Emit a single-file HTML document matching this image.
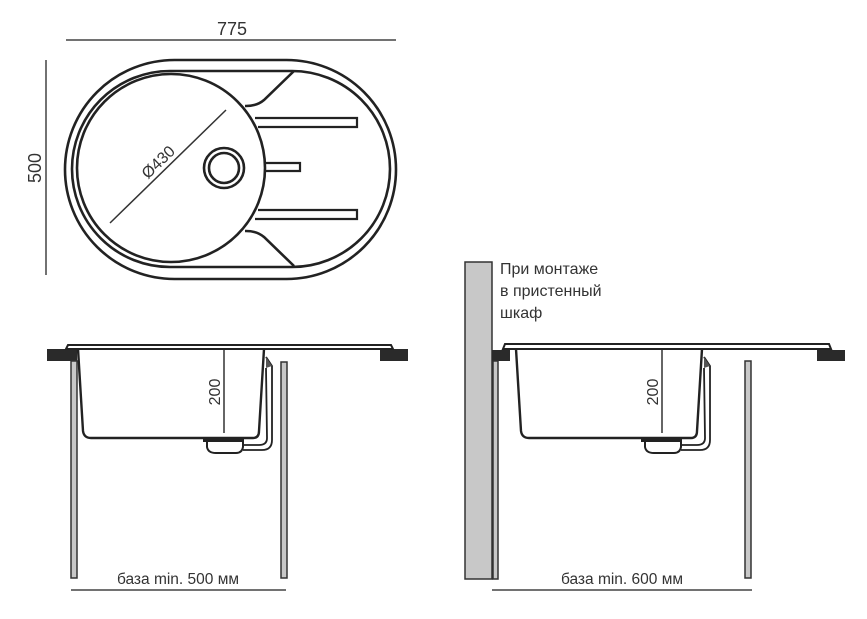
<!DOCTYPE html>
<html><head><meta charset="utf-8"><style>
html,body{margin:0;padding:0;background:#fff;}
svg{display:block;}
text{font-family:"Liberation Sans","DejaVu Sans",sans-serif;fill:#333;}
</style></head><body>
<svg width="867" height="619" viewBox="0 0 867 619" xmlns="http://www.w3.org/2000/svg">
<!-- top dims -->
<line x1="66" y1="40" x2="396" y2="40" stroke="#444" stroke-width="1.5"/>
<text x="232" y="35" font-size="18" text-anchor="middle">775</text>
<line x1="46" y1="60" x2="46" y2="275" stroke="#444" stroke-width="1.5"/>
<text x="0" y="0" font-size="18" text-anchor="middle" transform="translate(41,168) rotate(-90)">500</text>

<!-- top view -->
<g fill="none" stroke="#222" stroke-width="2.6">
<rect x="65" y="60" width="331" height="219" rx="109.5" ry="109.5"/>
<rect x="72" y="71" width="318" height="196" rx="98" ry="98"/>
<circle cx="171" cy="168" r="94"/>
<circle cx="224" cy="168" r="20"/>
<circle cx="224" cy="168" r="15"/>
<path d="M294,71 L264,100 Q257,106 246,106 L245,106"/>
<path d="M294,266 L264,237 Q257,231 246,231 L245,231"/>
<path d="M255,118 L357,118 L357,127 L258,127" stroke-width="2.2"/>
<path d="M265,163 L300,163 L300,171 L265,171" stroke-width="2.2"/>
<path d="M258,210 L357,210 L357,219 L255,219" stroke-width="2.2"/>
</g>
<line x1="110" y1="223" x2="226" y2="110" stroke="#333" stroke-width="1.5"/>
<text x="0" y="0" font-size="16" text-anchor="middle" transform="translate(162,166) rotate(-44)">Ø430</text>

<!-- LEFT side view -->
<rect x="47" y="349" width="30" height="12" fill="#2a2a2a"/>
<rect x="380" y="349" width="28" height="12" fill="#2a2a2a"/>
<path d="M66,349 L68,345 L391,345 L393,349 Z" fill="#fff" stroke="#222" stroke-width="2"/>
<rect x="71" y="361" width="6" height="217" fill="#c8c8c8" stroke="#333" stroke-width="1.5"/>
<rect x="281" y="362" width="6" height="216" fill="#c8c8c8" stroke="#333" stroke-width="1.5"/>
<line x1="71" y1="590" x2="286" y2="590" stroke="#444" stroke-width="1.5"/>
<text x="178" y="584" font-size="15.5" text-anchor="middle">база min. 500 мм</text>

<!-- RIGHT side view -->
<rect x="465" y="262" width="27" height="317" fill="#c8c8c8" stroke="#333" stroke-width="1.5"/>
<rect x="492" y="350" width="18" height="11" fill="#2a2a2a"/>
<rect x="817" y="350" width="28" height="11" fill="#2a2a2a"/>
<path d="M503,349 L505,344 L829,344 L831,349 Z" fill="#fff" stroke="#222" stroke-width="2"/>
<rect x="493" y="361" width="5" height="218" fill="#c8c8c8" stroke="#333" stroke-width="1.5"/>
<rect x="745" y="361" width="6" height="217" fill="#c8c8c8" stroke="#333" stroke-width="1.5"/>
<line x1="492" y1="590" x2="752" y2="590" stroke="#444" stroke-width="1.5"/>
<text x="622" y="584" font-size="15.5" text-anchor="middle">база min. 600 мм</text>
<text x="500" y="274" font-size="16">При монтаже</text>
<text x="500" y="296" font-size="16">в пристенный</text>
<text x="500" y="318" font-size="16">шкаф</text>

<!-- bowl sections -->
<g id="bowl">
<path d="M78,349 L83,431 Q84,438 91,438 L253,438 Q259,438 259,431 L264,349" fill="none" stroke="#222" stroke-width="2.4"/>
<line x1="224" y1="350" x2="224" y2="433" stroke="#333" stroke-width="1.5"/>
<text x="0" y="0" font-size="16" text-anchor="middle" transform="translate(220,392) rotate(-90)">200</text>
<rect x="203" y="438" width="41" height="4" fill="#222"/>
<path d="M207,442 L207,447 Q208,453 216,453 L236,453 Q242,453 243,447 L243,442" fill="#fff" stroke="#222" stroke-width="2"/>
<path d="M266,357 L272,366 L272,440 Q272,450 262,450 L243,450" fill="none" stroke="#222" stroke-width="1.8"/>
<path d="M266,368 L267,438 Q267,445 259,445 L243,445" fill="none" stroke="#222" stroke-width="1.8"/>
<path d="M266,357 L272,366 L266,368 Z" fill="#555"/>
</g>
<use href="#bowl" transform="translate(438,0)"/>
</svg>
</body></html>
